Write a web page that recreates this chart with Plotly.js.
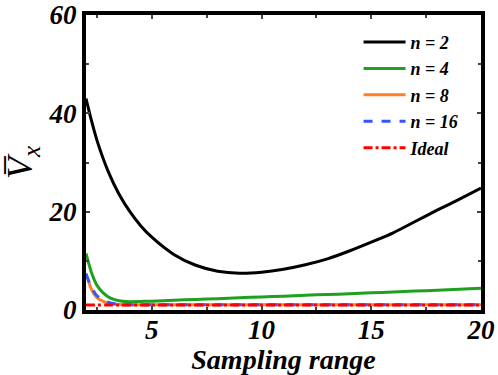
<!DOCTYPE html>
<html>
<head>
<meta charset="utf-8">
<script src="https://cdn.plot.ly/plotly-3.0.1.min.js"></script>
<style>
  body { margin: 0; }
  #plot { width: 498px; height: 375px; }
</style>
</head>
<body>
<div id="plot"></div>
<script>
/* values */
var xValue = [2, 2.25, 2.5, 3, 3.5, 4, 4.5, 5, 6, 7, 8, 9, 10, 11, 12, 13, 14, 15, 16, 17, 18, 19, 20];

var yN2 = [43, 38.5, 34.5, 28.3, 23.6, 20.0, 17.1, 14.8, 11.3, 9.1, 7.9, 7.5, 7.7, 8.3, 9.2, 10.4, 12, 13.8, 15.7, 18, 20.3, 22.5, 24.8];
var yN4 = [11.5, 7.6, 5, 2.7, 1.9, 1.7, 1.75, 1.8, 2.0, 2.15, 2.3, 2.5, 2.65, 2.8, 3.0, 3.15, 3.3, 3.5, 3.65, 3.85, 4.0, 4.2, 4.4];
var yN8 = [7.5, 4.2, 2.5, 1.4, 1.1, 1.05, 1.05, 1.05, 1.05, 1.05, 1.05, 1.05, 1.05, 1.05, 1.05, 1.05, 1.05, 1.05, 1.05, 1.05, 1.05, 1.05, 1.05];
var yN16 = [7.3, 4.6, 2.9, 1.6, 1.15, 1.05, 1.05, 1.05, 1.05, 1.05, 1.05, 1.05, 1.05, 1.05, 1.05, 1.05, 1.05, 1.05, 1.05, 1.05, 1.05, 1.05, 1.05];
var yIdeal = [1, 1, 1, 1, 1, 1, 1, 1, 1, 1, 1, 1, 1, 1, 1, 1, 1, 1, 1, 1, 1, 1, 1];

var xTicks = [5, 10, 15, 20];
var yTicks = [0, 20, 40, 60];

var names = ["n = 2", "n = 4", "n = 8", "n = 16", "Ideal"];

function makeTrace(y, name, color, dash)
{
  return {
    x: xValue,
    y: y,
    name: name,
    type: "scatter",
    mode: "lines",
    line: { color: color, width: 3, dash: dash, shape: "spline", smoothing: 0.8 }
  };
}

function boldItalic(v) { return "<b><i>" + v + "</i></b>"; }

var trace1 = makeTrace(yN2, names[0], "black", "solid");
var trace2 = makeTrace(yN4, names[1], "#1fa01f", "solid");
var trace3 = makeTrace(yN8, names[2], "#ff7f27", "solid");
var trace4 = makeTrace(yN16, names[3], "#3355ff", "dash");
var trace5 = makeTrace(yIdeal, names[4], "red", "dashdot");

var serif = "Liberation Serif";
var tickFont = { family: serif, size: 27, color: "black", weight: "bold", style: "italic" };

var layout = {
  width: 498,
  height: 375,
  margin: { l: 86, r: 17, t: 15, b: 65 },
  paper_bgcolor: "white",
  plot_bgcolor: "white",
  showlegend: true,
  xaxis: {
    range: [2, 20],
    tickmode: "array",
    tickvals: xTicks,
    ticktext: xTicks.map(boldItalic),
    ticks: "inside",
    ticklen: 4,
    tickwidth: 2,
    ticklabeloverflow: "allow",
    ticklabelstandoff: -7,
    minor: { tick0: 0, dtick: 2.5, ticks: "inside", ticklen: 3, tickwidth: 2 },
    showgrid: false,
    zeroline: false,
    showline: true,
    linewidth: 4,
    linecolor: "black",
    mirror: "allticks",
    tickfont: tickFont,
    title: {
      text: "Sampling range",
      font: { family: serif, size: 28, color: "black", weight: "bold", style: "italic" },
      standoff: 5
    }
  },
  yaxis: {
    range: [0, 60],
    tickmode: "array",
    tickvals: yTicks,
    ticktext: yTicks.map(boldItalic),
    ticks: "inside",
    ticklen: 4,
    tickwidth: 2,
    ticklabeloverflow: "allow",
    minor: { tick0: 0, dtick: 10, ticks: "inside", ticklen: 3, tickwidth: 2 },
    showgrid: false,
    zeroline: false,
    showline: true,
    linewidth: 4,
    linecolor: "black",
    mirror: "allticks",
    tickfont: tickFont,
    title: {
      text: "V\u0305<sub>x</sub>",
      font: { family: serif, size: 36, color: "black", style: "italic" },
      standoff: 6
    }
  },
  legend: {
    x: 0.69,
    xanchor: "left",
    y: 0.97,
    yanchor: "top",
    itemwidth: 42,
    bgcolor: "rgba(0,0,0,0)",
    font: { family: serif, size: 18, color: "black", weight: "bold", style: "italic" },
    tracegroupgap: 0
  }
};

var data = [trace1, trace2, trace3, trace4, trace5];

Plotly.newPlot("plot", data, layout, { displayModeBar: false });
</script>
</body>
</html>
